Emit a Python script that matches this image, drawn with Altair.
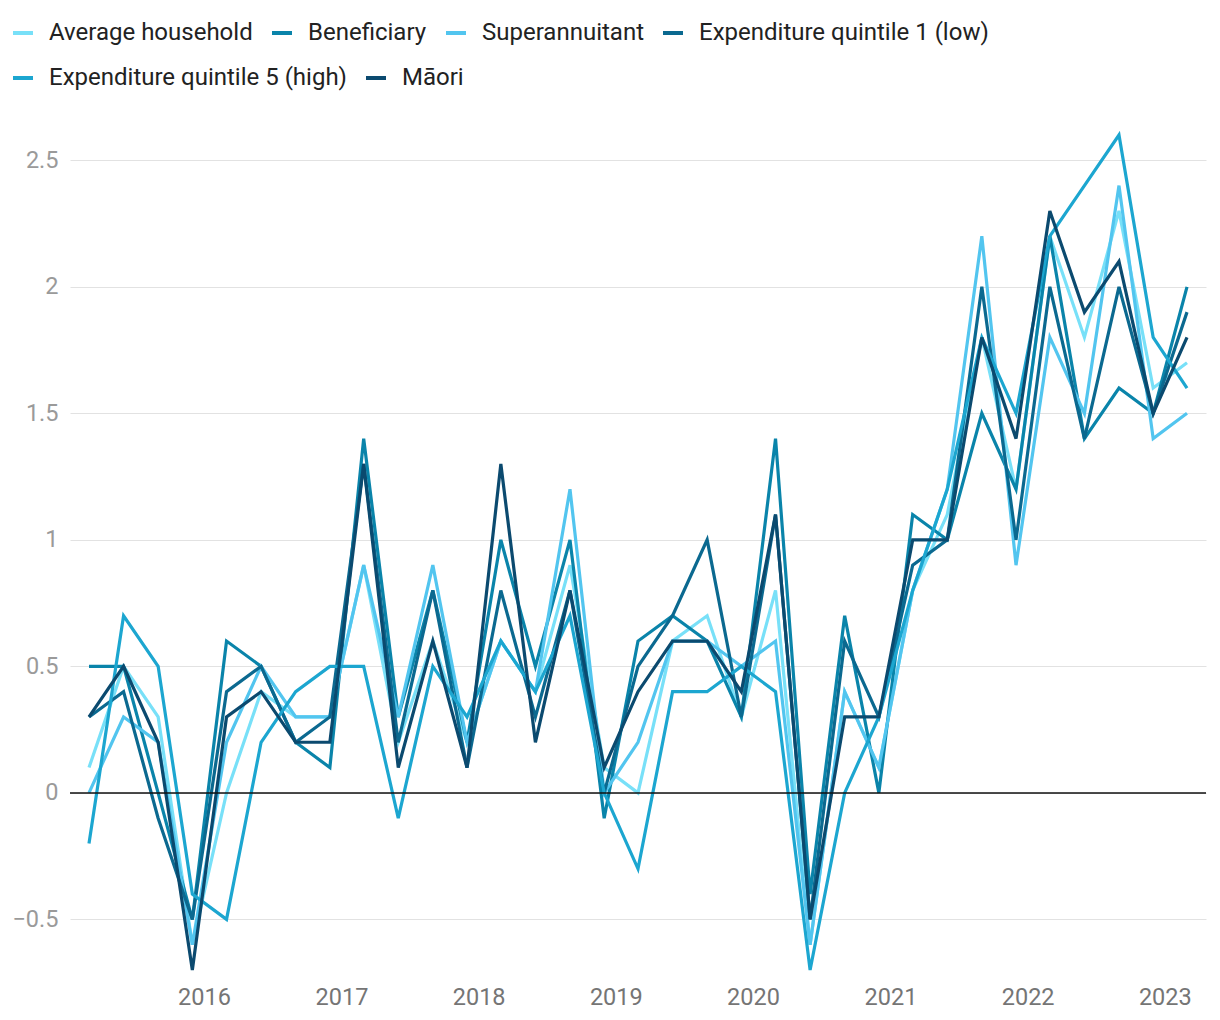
import altair as alt
import pandas as pd

quarters = [
    "2015-03-01", "2015-06-01", "2015-09-01", "2015-12-01",
    "2016-03-01", "2016-06-01", "2016-09-01", "2016-12-01",
    "2017-03-01", "2017-06-01", "2017-09-01", "2017-12-01",
    "2018-03-01", "2018-06-01", "2018-09-01", "2018-12-01",
    "2019-03-01", "2019-06-01", "2019-09-01", "2019-12-01",
    "2020-03-01", "2020-06-01", "2020-09-01", "2020-12-01",
    "2021-03-01", "2021-06-01", "2021-09-01", "2021-12-01",
    "2022-03-01", "2022-06-01", "2022-09-01", "2022-12-01",
    "2023-03-01",
]

average_household = [0.1, 0.5, 0.3, -0.6, 0.0, 0.4, 0.3, 0.3, 0.9, 0.2, 0.6, 0.2, 0.6, 0.4, 0.9, 0.1, 0.0,
                     0.6, 0.7, 0.3, 0.8, -0.6, 0.4, 0.1, 0.8, 1.1, 1.8, 1.2, 2.2, 1.8, 2.3, 1.6, 1.7]
beneficiary = [0.5, 0.5, 0.0, -0.5, 0.6, 0.5, 0.2, 0.1, 1.4, 0.3, 0.8, 0.2, 1.0, 0.5, 1.0, -0.1, 0.6,
               0.7, 0.6, 0.3, 1.4, -0.4, 0.7, 0.0, 1.1, 1.0, 1.5, 1.2, 2.2, 1.4, 1.6, 1.5, 2.0]
superannuitant = [0.0, 0.3, 0.2, -0.6, 0.2, 0.5, 0.3, 0.3, 0.9, 0.3, 0.9, 0.2, 0.6, 0.4, 1.2, 0.0, 0.2,
                  0.6, 0.6, 0.5, 0.6, -0.6, 0.4, 0.1, 0.8, 1.2, 2.2, 0.9, 1.8, 1.5, 2.4, 1.4, 1.5]
quintile1 = [0.3, 0.4, -0.1, -0.5, 0.4, 0.5, 0.2, 0.3, 1.3, 0.2, 0.8, 0.1, 0.8, 0.3, 0.8, 0.0, 0.5,
             0.7, 1.0, 0.3, 1.1, -0.5, 0.6, 0.3, 0.9, 1.0, 2.0, 1.0, 2.0, 1.4, 2.0, 1.5, 1.9]
quintile5 = [-0.2, 0.7, 0.5, -0.4, -0.5, 0.2, 0.4, 0.5, 0.5, -0.1, 0.5, 0.3, 0.6, 0.4, 0.7, 0.0, -0.3,
             0.4, 0.4, 0.5, 0.4, -0.7, 0.0, 0.3, 0.8, 1.2, 1.8, 1.5, 2.2, 2.4, 2.6, 1.8, 1.6]
maori = [0.3, 0.5, 0.2, -0.7, 0.3, 0.4, 0.2, 0.2, 1.3, 0.1, 0.6, 0.1, 1.3, 0.2, 0.8, 0.1, 0.4,
         0.6, 0.6, 0.4, 1.1, -0.5, 0.3, 0.3, 1.0, 1.0, 1.8, 1.4, 2.3, 1.9, 2.1, 1.5, 1.8]

series_names = [
    "Average household", "Beneficiary", "Superannuitant",
    "Expenditure quintile 1 (low)", "Expenditure quintile 5 (high)", "Māori",
]
series_values = [average_household, beneficiary, superannuitant, quintile1, quintile5, maori]
series_colors = ["#78e0f8", "#0a84aa", "#52c5ef", "#0b6990", "#1ca6d0", "#0b4a6f"]

year_ticks = [2016, 2017, 2018, 2019, 2020, 2021, 2022, 2023]
y_ticks = [-0.5, 0, 0.5, 1, 1.5, 2, 2.5]

rows = []
for idx, (name, vals) in enumerate(zip(series_names, series_values)):
    for q, v in zip(quarters, vals):
        rows.append({"date": q + "T00:00:00", "series": name, "value": v, "series_order": idx})
df = pd.DataFrame(rows)

FONT = "Roboto"

x_enc = alt.X(
    "date:T",
    scale=alt.Scale(padding=19),
    axis=alt.Axis(
        title=None,
        values=[alt.DateTime(year=y, month=1, date=1) for y in year_ticks],
        format="%Y",
        grid=False,
        domain=False,
        ticks=False,
        labelFontSize=23.5,
        labelFont=FONT,
        labelColor="#757575",
        labelPadding=15,
    ),
)
y_enc = alt.Y(
    "value:Q",
    scale=alt.Scale(domain=[-0.7, 2.6], nice=False, zero=False),
    axis=alt.Axis(
        title=None,
        values=y_ticks,
        format="~g",
        grid=True,
        gridColor="#e2e2e2",
        gridWidth=1,
        domain=False,
        ticks=False,
        labelFontSize=23.5,
        labelFont=FONT,
        labelColor="#9a9a9a",
        labelPadding=12,
    ),
)


def legend_for(y_off):
    return alt.Legend(
        title=None,
        orient="none",
        direction="horizontal",
        legendX=-59,
        legendY=y_off,
        symbolType="stroke",
        symbolSize=400,
        symbolStrokeWidth=4,
        labelFontSize=24,
        labelFont=FONT,
        labelColor="#222222",
        labelOffset=14,
        columnPadding=11,
        labelLimit=500,
    )


row1 = series_names[:4]
row2 = series_names[4:]

lines1 = alt.Chart(df[df["series"].isin(row1)]).mark_line(strokeWidth=3.2).encode(
    x=x_enc,
    y=y_enc,
    color=alt.Color(
        "series:N",
        sort=row1,
        scale=alt.Scale(domain=row1, range=series_colors[:4]),
        legend=legend_for(-114),
    ),
    order=alt.Order("series_order:Q"),
)

lines2 = alt.Chart(df[df["series"].isin(row2)]).mark_line(strokeWidth=3.2).encode(
    x=x_enc,
    y=y_enc,
    color=alt.Color(
        "series:N",
        sort=row2,
        scale=alt.Scale(domain=row2, range=series_colors[4:]),
        legend=legend_for(-69),
    ),
    order=alt.Order("series_order:Q"),
)

zero_rule = alt.Chart(pd.DataFrame({"zero": [0]})).mark_rule(color="#111111", strokeWidth=1.5).encode(
    y="zero:Q"
)

chart = (
    alt.layer(lines1, lines2, zero_rule)
    .resolve_scale(color="independent")
    .properties(
        width=1136,
        height=835,
        autosize=alt.AutoSizeParams(type="none"),
        padding={"left": 62, "top": 127, "right": 4, "bottom": 40},
    )
    .configure(font=FONT)
    .configure_view(strokeWidth=0, stroke="transparent")
)

chart.save("out.html", embed_options={"renderer": "svg", "actions": False})
